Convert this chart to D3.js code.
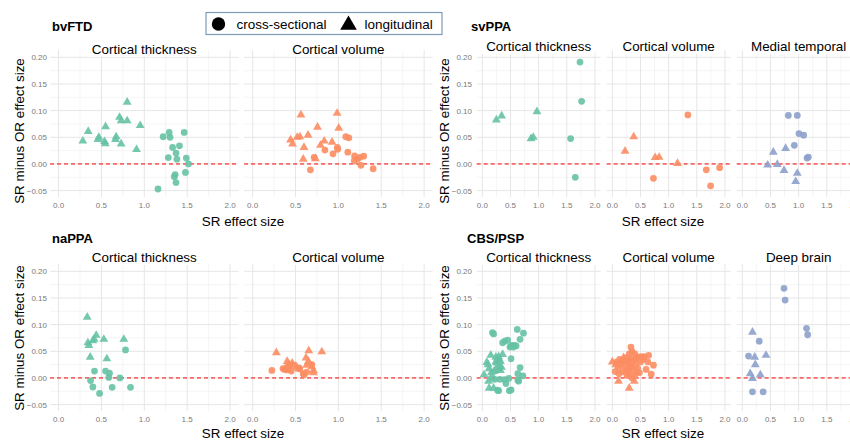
<!DOCTYPE html>
<html>
<head>
<meta charset="utf-8">
<script src="https://cdn.jsdelivr.net/npm/d3@7"></script>
<style>
  body { margin: 0; background: #fff; }
  text { font-family: "Liberation Sans", Arial, Helvetica, sans-serif; }
</style>
</head>
<body>
<div id="chart"></div>
<script>
// ---- data: [SR effect size, SR minus OR effect size] ----
var bvftdThickCross = [[1.22,0.051],[1.29,0.059],[1.30,0.050],[1.465,0.059],[1.33,0.031],[1.41,0.034],[1.37,0.0205],[1.28,0.012],[1.38,0.009],[1.49,0.011],[1.515,0.000],[1.48,-0.016],[1.35,-0.024],[1.36,-0.020],[1.37,-0.035],[1.16,-0.047]];
var bvftdThickLong  = [[0.283,0.043],[0.346,0.061],[0.47,0.050],[0.46,0.046],[0.548,0.070],[0.536,0.042],[0.544,0.038],[0.672,0.051],[0.664,0.046],[0.711,0.0875],[0.73,0.081],[0.80,0.081],[0.73,0.0375],[0.80,0.116],[0.952,0.072],[0.909,0.027]];
var bvftdVolCross   = [[0.717,0.0125],[0.843,0.026],[0.937,0.019],[0.988,0.031],[0.992,0.0275],[1.086,0.051],[1.122,0.049],[1.110,0.022],[1.189,0.015],[1.185,0.006],[1.221,0.009],[1.252,0.0125],[1.295,0.0145],[1.263,-0.0025],[1.405,-0.009],[0.673,-0.011]];
var bvftdVolLong    = [[0.563,0.092],[0.985,0.095],[1.004,0.067],[0.756,0.069],[0.646,0.054],[0.519,0.050],[0.551,0.051],[0.442,0.045],[0.465,0.0375],[0.599,0.031],[0.835,0.043],[0.791,0.035],[0.926,0.041],[0.590,0.009],[0.732,0.010]];

var svppaThickCross = [[1.734,0.191],[1.763,0.1175],[1.568,0.0475],[1.651,-0.025]];
var svppaThickLong  = [[0.249,0.0825],[0.343,0.090],[0.970,0.098],[0.864,0.0475],[0.905,0.050]];
var svppaVolCross   = [[0.730,-0.027],[1.341,0.092],[1.668,-0.011],[1.905,-0.007],[1.745,-0.041]];
var svppaVolLong    = [[0.226,0.024],[0.380,0.051],[0.760,0.012],[0.831,0.0125],[1.157,0.001]];
var svppaMedCross   = [[0.817,0.091],[0.976,0.091],[1.006,0.057],[1.089,0.054],[0.923,0.035],[1.148,0.011],[1.172,0.013]];
var svppaMedLong    = [[0.450,-0.002],[0.550,0.022],[0.621,-0.001],[0.740,-0.012],[0.769,0.029],[0.976,-0.0175],[0.947,-0.033]];

var nappaThickCross = [[0.781,0.0525],[0.419,0.013],[0.373,-0.005],[0.40,-0.017],[0.478,-0.029],[0.548,0.013],[0.594,0.009],[0.586,0.001],[0.625,-0.0175],[0.715,0.000],[0.839,-0.0175]];
var nappaThickLong  = [[0.334,0.114],[0.342,0.066],[0.353,0.061],[0.369,0.039],[0.40,0.070],[0.416,0.0725],[0.439,0.080],[0.528,0.0725],[0.563,0.036],[0.761,0.0725]];
var nappaVolCross   = [[0.224,0.014],[0.354,0.0175],[0.37,0.016],[0.40,0.015],[0.42,0.017],[0.433,0.024],[0.49,0.024],[0.54,0.019],[0.55,0.017],[0.59,0.008],[0.60,0.006],[0.63,0.011],[0.69,0.025],[0.40,0.020],[0.45,0.013],[0.52,0.018]];
var nappaVolLong    = [[0.276,0.0475],[0.402,0.031],[0.461,0.028],[0.65,0.031],[0.622,0.0375],[0.654,0.051],[0.807,0.049],[0.709,0.014],[0.709,0.010],[0.689,0.021],[0.63,0.024],[0.42,0.026]];

var cbsThickCross = [[0.18,0.085],[0.20,0.0825],[0.62,0.091],[0.73,0.084],[0.67,0.0725],[0.36,0.066],[0.40,0.069],[0.45,0.071],[0.49,0.058],[0.51,0.061],[0.54,0.060],[0.57,0.061],[0.51,0.036],[0.67,0.0195],[0.63,0.008],[0.72,0.004],[0.39,-0.003],[0.47,-0.001],[0.63,-0.004],[0.645,-0.006],[0.42,-0.0105],[0.48,-0.024],[0.51,-0.0225],[0.27,-0.023],[0.29,-0.024],[0.22,-0.0025],[0.31,-0.0025],[0.31,0.0175],[0.24,0.014],[0.17,0.000],[0.55,0.058],[0.60,0.060]];
var cbsThickLong  = [[0.03,0.006],[0.08,0.029],[0.15,0.0425],[0.24,0.039],[0.27,0.036],[0.30,0.034],[0.32,0.031],[0.36,0.044],[0.24,0.030],[0.28,0.024],[0.12,0.0175],[0.16,0.010],[0.21,0.0125],[0.11,-0.006],[0.12,-0.019],[0.20,-0.019],[0.32,0.014],[0.34,0.020],[0.26,0.028],[0.10,0.025],[0.29,0.040]];
var cbsVolCross   = [[0.33,0.058],[0.645,0.0425],[0.57,0.040],[0.51,0.040],[0.46,0.039],[0.63,0.030],[0.73,0.024],[0.60,0.016],[0.69,0.007],[0.35,0.050],[0.30,0.045],[0.40,0.045],[0.38,0.035],[0.25,0.038],[0.20,0.033],[0.15,0.025],[0.10,0.020],[0.05,0.012],[0.08,0.030],[0.22,0.020],[0.28,0.028],[0.32,0.022],[0.36,0.015],[0.42,0.025],[0.45,0.018],[0.50,0.030],[0.30,0.010],[0.26,0.005],[0.40,0.005],[0.18,0.012],[0.12,0.008],[0.35,0.000],[0.55,0.035],[0.48,0.010],[0.24,0.032],[0.34,0.030],[0.27,0.017],[0.13,0.035],[0.42,0.036]];
var cbsVolLong    = [[0.00,0.030],[0.11,-0.006],[0.30,-0.019],[0.39,-0.006],[0.44,0.010],[0.06,0.025],[0.20,0.038],[0.25,0.012],[0.35,0.020],[0.16,0.030],[0.32,0.035],[0.28,0.005]];
var cbsDeepCross  = [[0.74,0.168],[0.76,0.146],[1.14,0.093],[1.16,0.081],[0.30,0.069],[0.11,0.041],[0.18,-0.026],[0.37,-0.026]];
var cbsDeepLong   = [[0.18,0.086],[0.22,0.039],[0.42,0.0425],[0.23,0.025],[0.14,0.008],[0.32,0.006],[0.18,-0.001]];

var xTicks = [0, 0.5, 1, 1.5, 2];
var yTicks = [-0.05, 0, 0.05, 0.10, 0.15, 0.20];
var xMinor = [0.25, 0.75, 1.25, 1.75];
var yMinor = [-0.025, 0.025, 0.075, 0.125, 0.175];

// Set2 palette per region type
var colThick = "#66c2a5", colVol = "#fc8d62", colOther = "#8da0cb";

var plots = [
  {title: "bvFTD", tx: 52, ty: 31, panelTop: 50, stripY: 53.5, left: 50, pw: 188.6, gap: 5.5,
   xTitleX: 243, xTitleY: 226, yTitleX: 19, yTitleY: 131, tickRight: 47,
   panels: [{label: "Cortical thickness", color: colThick, cross: bvftdThickCross, long: bvftdThickLong},
            {label: "Cortical volume", color: colVol, cross: bvftdVolCross, long: bvftdVolLong}]},
  {title: "svPPA", tx: 471, ty: 31, panelTop: 50, stripY: 51, left: 476.7, pw: 123.9, gap: 6.1,
   xTitleX: 663, xTitleY: 226, yTitleX: 444, yTitleY: 131, tickRight: 472,
   panels: [{label: "Cortical thickness", color: colThick, cross: svppaThickCross, long: svppaThickLong},
            {label: "Cortical volume", color: colVol, cross: svppaVolCross, long: svppaVolLong},
            {label: "Medial temporal", color: colOther, cross: svppaMedCross, long: svppaMedLong}]},
  {title: "naPPA", tx: 52, ty: 243, panelTop: 264, stripY: 262, left: 50, pw: 188.6, gap: 5.5,
   xTitleX: 243, xTitleY: 437.5, yTitleX: 19, yTitleY: 338, tickRight: 47,
   panels: [{label: "Cortical thickness", color: colThick, cross: nappaThickCross, long: nappaThickLong},
            {label: "Cortical volume", color: colVol, cross: nappaVolCross, long: nappaVolLong}]},
  {title: "CBS/PSP", tx: 467, ty: 243, panelTop: 264, stripY: 262, left: 476.7, pw: 123.9, gap: 6.1,
   xTitleX: 663, xTitleY: 437.5, yTitleX: 444, yTitleY: 338, tickRight: 472,
   panels: [{label: "Cortical thickness", color: colThick, cross: cbsThickCross, long: cbsThickLong},
            {label: "Cortical volume", color: colVol, cross: cbsVolCross, long: cbsVolLong},
            {label: "Deep brain", color: colOther, cross: cbsDeepCross, long: cbsDeepLong}]}
];

var width = 850, height = 441, panelH = 147;

var svg = d3.select("#chart")
  .append("svg")
    .attr("width", width)
    .attr("height", height);

var circleSym = d3.symbol().type(d3.symbolCircle).size(36);
var triSym = d3.symbol().type(d3.symbolTriangle).size(34);

plots.forEach(function(p) {
  var y = d3.scaleLinear()
    .domain([-0.062, 0.2137])
    .range([p.panelTop + panelH, p.panelTop]);

  // plot title
  svg.append("text")
    .attr("x", p.tx).attr("y", p.ty)
    .style("font-size", "13px").style("font-weight", "bold")
    .text(p.title);

  // y tick labels (only on first panel)
  svg.selectAll(null)
    .data(yTicks).enter()
    .append("text")
      .attr("x", p.tickRight)
      .attr("y", d => y(d) + 3)
      .attr("text-anchor", "end")
      .style("font-size", "8px").style("fill", "#7a7a7a")
      .text(d => d3.format(".2f")(d));

  // y axis title
  svg.append("text")
    .attr("transform", "translate(" + (p.yTitleX + 4.5) + "," + p.yTitleY + ") rotate(-90)")
    .attr("text-anchor", "middle")
    .style("font-size", "13.4px")
    .text("SR minus OR effect size");

  // x axis title
  svg.append("text")
    .attr("x", p.xTitleX).attr("y", p.xTitleY)
    .attr("text-anchor", "middle")
    .style("font-size", "13.4px")
    .text("SR effect size");

  p.panels.forEach(function(pan, i) {
    var x0 = p.left + i * (p.pw + p.gap);
    var x = d3.scaleLinear().domain([-0.1, 2.1]).range([x0, x0 + p.pw]);
    var g = svg.append("g");

    // grid
    g.selectAll(null).data(xMinor).enter().append("line")
      .attr("x1", d => x(d)).attr("x2", d => x(d))
      .attr("y1", p.panelTop).attr("y2", p.panelTop + panelH)
      .style("stroke", "#f2f2f2").style("stroke-width", 0.8);
    g.selectAll(null).data(yMinor).enter().append("line")
      .attr("x1", x0).attr("x2", x0 + p.pw)
      .attr("y1", d => y(d)).attr("y2", d => y(d))
      .style("stroke", "#f2f2f2").style("stroke-width", 0.8);
    g.selectAll(null).data(xTicks).enter().append("line")
      .attr("x1", d => x(d)).attr("x2", d => x(d))
      .attr("y1", p.panelTop).attr("y2", p.panelTop + panelH)
      .style("stroke", "#e6e6e6").style("stroke-width", 1);
    g.selectAll(null).data(yTicks).enter().append("line")
      .attr("x1", x0).attr("x2", x0 + p.pw)
      .attr("y1", d => y(d)).attr("y2", d => y(d))
      .style("stroke", "#e6e6e6").style("stroke-width", 1);

    // x tick labels
    g.selectAll(null).data(xTicks).enter().append("text")
      .attr("x", d => x(d)).attr("y", p.panelTop + panelH + 11)
      .attr("text-anchor", "middle")
      .style("font-size", "8px").style("fill", "#7a7a7a")
      .text(d => d3.format(".1f")(d));

    // strip label with white box
    var strip = g.append("text")
      .attr("x", x0 + p.pw / 2).attr("y", p.stripY)
      .attr("text-anchor", "middle")
      .style("font-size", "13.4px")
      .text(pan.label);
    var bb = strip.node().getBBox();
    g.insert("rect", "text")
      .attr("x", bb.x - 4).attr("y", bb.y)
      .attr("width", bb.width + 8).attr("height", bb.height)
      .style("fill", "#fff");

    // zero reference
    g.append("line")
      .attr("x1", x0).attr("x2", x0 + p.pw)
      .attr("y1", y(0)).attr("y2", y(0))
      .style("stroke", "#ff0000").style("stroke-width", 1)
      .style("stroke-dasharray", "4,3");

    // points
    g.selectAll(null).data(pan.long).enter().append("path")
      .attr("d", triSym)
      .attr("transform", d => "translate(" + x(d[0]) + "," + y(d[1]) + ")")
      .style("fill", pan.color).style("opacity", 0.9);
    g.selectAll(null).data(pan.cross).enter().append("path")
      .attr("d", circleSym)
      .attr("transform", d => "translate(" + x(d[0]) + "," + y(d[1]) + ")")
      .style("fill", pan.color).style("opacity", 0.9);
  });
});

// legend
var lg = svg.append("g");
lg.append("rect")
  .attr("x", 206).attr("y", 12.5)
  .attr("width", 236).attr("height", 22)
  .style("fill", "#fff").style("stroke", "#7d9bb6").style("stroke-width", 1.2);
lg.append("path").attr("d", d3.symbol().type(d3.symbolCircle).size(140))
  .attr("transform", "translate(218.5,24)");
lg.append("text").attr("x", 236.5).attr("y", 28.8)
  .style("font-size", "13.5px").text("cross-sectional");
lg.append("path").attr("d", d3.symbol().type(d3.symbolTriangle).size(120))
  .attr("transform", "translate(348.5,25)");
lg.append("text").attr("x", 364.5).attr("y", 28.8)
  .style("font-size", "13.5px").text("longitudinal");
</script>
</body>
</html>
